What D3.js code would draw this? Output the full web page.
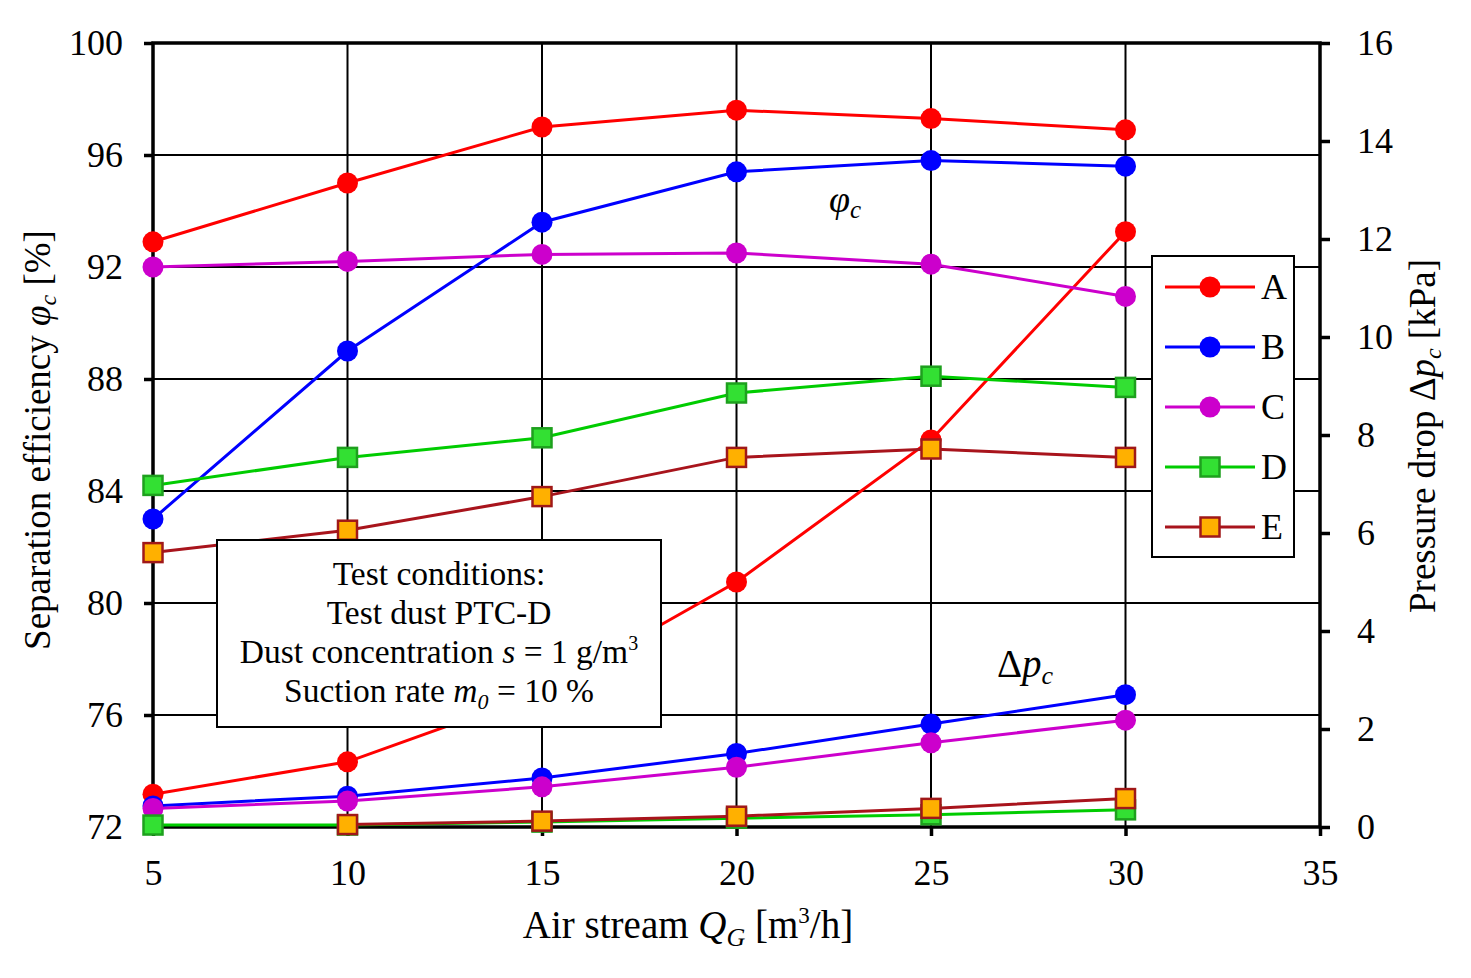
<!DOCTYPE html>
<html>
<head>
<meta charset="utf-8">
<script src="https://cdn.jsdelivr.net/npm/d3@7"></script>
<style>
  body { margin: 0; background: #fff; }
  text { font-family: "Liberation Serif", "Times New Roman", serif; fill: #000; }
</style>
</head>
<body>
<svg id="chart" width="1471" height="978"></svg>
<script>
// x values (air stream, m3/h)
const airStream = [5, 10, 15, 20, 25, 30];

// separation efficiency [%] per cyclone variant
const effA = [92.9, 95.0, 97.0, 97.6, 97.3, 96.9];
const effB = [83.0, 89.0, 93.6, 95.4, 95.8, 95.6];
const effC = [92.0, 92.2, 92.45, 92.5, 92.1, 90.95];
const effD = [84.2, 85.2, 85.9, 87.5, 88.1, 87.7];
const effE = [81.8, 82.6, 83.8, 85.2, 85.5, 85.2];

// pressure drop [kPa]
const dpA = [0.67, 1.33, 2.75, 5.0, 7.9, 12.15];
const dpB = [0.43, 0.63, 1.0, 1.5, 2.1, 2.7];
const dpC = [0.38, 0.53, 0.82, 1.22, 1.72, 2.18];
const dpD = [0.04, 0.04, 0.1, 0.18, 0.25, 0.35];
const dpE = [null, 0.05, 0.12, 0.22, 0.38, 0.58];

const seriesNames = ["A", "B", "C", "D", "E"];
const xTicks = [5, 10, 15, 20, 25, 30, 35];
const yLeftTicks = [72, 76, 80, 84, 88, 92, 96, 100];
const yRightTicks = [0, 2, 4, 6, 8, 10, 12, 14, 16];

// styling per series
const styles = {
  A: {line: "#ff0000", fill: "#ff0000", stroke: "#ff0000", shape: "circle"},
  B: {line: "#0000ff", fill: "#0000ff", stroke: "#0000ff", shape: "circle"},
  C: {line: "#cc00cc", fill: "#cc00cc", stroke: "#cc00cc", shape: "circle"},
  D: {line: "#00cc00", fill: "#33e033", stroke: "#1ea01e", shape: "square"},
  E: {line: "#a8141c", fill: "#ffb000", stroke: "#a01818", shape: "square"}
};

const effData = {A: effA, B: effB, C: effC, D: effD, E: effE};
const dpData = {A: dpA, B: dpB, C: dpC, D: dpD, E: dpE};

const svg = d3.select("#chart");
const plotL = 153, plotR = 1320, plotT = 43, plotB = 827;

const x = d3.scaleLinear().domain([5, 35]).range([plotL, plotR]);
const yL = d3.scaleLinear().domain([72, 100]).range([plotB, plotT]);
const yR = d3.scaleLinear().domain([0, 16]).range([plotB, plotT]);

// grid
const grid = svg.append("g");
grid.selectAll("line.v").data(xTicks.filter(d => d > 5 && d < 35)).enter().append("line")
  .attr("x1", d => x(d)).attr("x2", d => x(d)).attr("y1", plotT).attr("y2", plotB)
  .attr("stroke", "#000").attr("stroke-width", 2);
grid.selectAll("line.h").data(yLeftTicks.filter(d => d > 72 && d < 100)).enter().append("line")
  .attr("x1", plotL).attr("x2", plotR).attr("y1", d => yL(d)).attr("y2", d => yL(d))
  .attr("stroke", "#000").attr("stroke-width", 2);

// axes
const fs = 36;
const axB = svg.append("g").attr("transform", "translate(0," + plotB + ")")
  .call(d3.axisBottom(x).tickValues(xTicks).tickSize(9).tickPadding(23));
const axL = svg.append("g").attr("transform", "translate(" + plotL + ",0)")
  .call(d3.axisLeft(yL).tickValues(yLeftTicks).tickSize(9).tickPadding(21));
const axR = svg.append("g").attr("transform", "translate(" + plotR + ",0)")
  .call(d3.axisRight(yR).tickValues(yRightTicks).tickSize(10).tickPadding(27));
[axB, axL, axR].forEach(a => {
  a.select(".domain").remove();
  a.selectAll(".tick line").attr("stroke", "#000").attr("stroke-width", 3.5);
  a.selectAll(".tick text").attr("font-size", fs)
    .attr("font-family", "Liberation Serif, Times New Roman, serif");
});

// frame
svg.append("rect").attr("x", plotL).attr("y", plotT)
  .attr("width", plotR - plotL).attr("height", plotB - plotT)
  .attr("fill", "none").attr("stroke", "#000").attr("stroke-width", 3.5);

// series
function drawSeries(name, values, yScale) {
  const st = styles[name];
  const pts = airStream.map((q, i) => ({q: q, v: values[i]})).filter(d => d.v != null);
  const line = d3.line().x(d => x(d.q)).y(d => yScale(d.v));
  const g = svg.append("g");
  g.append("path").datum(pts).attr("d", line)
    .attr("fill", "none").attr("stroke", st.line).attr("stroke-width", 3);
  drawMarkers(g, pts.map(d => [x(d.q), yScale(d.v)]), st);
}

function drawMarkers(g, coords, st) {
  if (st.shape === "circle") {
    g.selectAll("circle").data(coords).enter().append("circle")
      .attr("cx", d => d[0]).attr("cy", d => d[1]).attr("r", 10.5)
      .attr("fill", st.fill);
  } else {
    g.selectAll("rect").data(coords).enter().append("rect")
      .attr("x", d => d[0] - 9.5).attr("y", d => d[1] - 9.5)
      .attr("width", 19).attr("height", 19)
      .attr("fill", st.fill).attr("stroke", st.stroke).attr("stroke-width", 2.5);
  }
}

seriesNames.forEach(n => drawSeries(n, dpData[n], yR));
seriesNames.forEach(n => drawSeries(n, effData[n], yL));

// test conditions box
const box = svg.append("g");
box.append("rect").attr("x", 217).attr("y", 540).attr("width", 444).attr("height", 187)
  .attr("fill", "#fff").attr("stroke", "#000").attr("stroke-width", 2);
const bfs = 33.5;
const cx = 439;
box.append("text").attr("x", cx).attr("y", 585).attr("text-anchor", "middle")
  .attr("font-size", bfs).text("Test conditions:");
box.append("text").attr("x", cx).attr("y", 624).attr("text-anchor", "middle")
  .attr("font-size", bfs).text("Test dust PTC-D");
const t3 = box.append("text").attr("x", cx).attr("y", 663).attr("text-anchor", "middle")
  .attr("font-size", bfs);
t3.append("tspan").text("Dust concentration ");
t3.append("tspan").attr("font-style", "italic").text("s");
t3.append("tspan").text(" = 1 g/m");
t3.append("tspan").attr("font-size", 20).attr("dy", -13).text("3");
const t4 = box.append("text").attr("x", cx).attr("y", 702).attr("text-anchor", "middle")
  .attr("font-size", bfs);
t4.append("tspan").text("Suction rate ");
t4.append("tspan").attr("font-style", "italic").text("m");
t4.append("tspan").attr("font-style", "italic").attr("font-size", 22).attr("dy", 7).text("0");
t4.append("tspan").attr("dy", -7).text(" = 10 %");

// legend
const lg = svg.append("g");
lg.append("rect").attr("x", 1152).attr("y", 256).attr("width", 142).attr("height", 301)
  .attr("fill", "#fff").attr("stroke", "#000").attr("stroke-width", 2);
const legY = d3.scalePoint().domain(seriesNames).range([287, 527]);
seriesNames.forEach(n => {
  const st = styles[n];
  const yy = legY(n);
  lg.append("line").attr("x1", 1165).attr("x2", 1255).attr("y1", yy).attr("y2", yy)
    .attr("stroke", st.line).attr("stroke-width", 3);
  drawMarkers(lg.append("g"), [[1210, yy]], st);
  lg.append("text").attr("x", 1261).attr("y", yy + 12).attr("font-size", fs).text(n);
});

// curve annotations
const a1 = svg.append("text").attr("x", 829).attr("y", 212).attr("font-size", 38)
  .attr("font-style", "italic");
a1.append("tspan").text("φ");
a1.append("tspan").attr("font-size", 25).attr("dy", 6).text("c");
const a2 = svg.append("text").attr("x", 997).attr("y", 677).attr("font-size", 39);
a2.append("tspan").text("Δ");
a2.append("tspan").attr("font-style", "italic").text("p");
a2.append("tspan").attr("font-style", "italic").attr("font-size", 26).attr("dy", 7).text("c");

// axis titles
const xt = svg.append("text").attr("x", 688).attr("y", 938).attr("text-anchor", "middle")
  .attr("font-size", 39);
xt.append("tspan").text("Air stream ");
xt.append("tspan").attr("font-style", "italic").text("Q");
xt.append("tspan").attr("font-style", "italic").attr("font-size", 26).attr("dy", 8).text("G");
xt.append("tspan").attr("dy", -8).text(" [m");
xt.append("tspan").attr("font-size", 23).attr("dy", -15).text("3");
xt.append("tspan").attr("dy", 15).text("/h]");

const yt = svg.append("text").attr("transform", "translate(50,440) rotate(-90)")
  .attr("text-anchor", "middle").attr("font-size", 37);
yt.append("tspan").text("Separation efficiency ");
yt.append("tspan").attr("font-style", "italic").text("φ");
yt.append("tspan").attr("font-style", "italic").attr("font-size", 24).attr("dy", 6).text("c");
yt.append("tspan").attr("dy", -6).text(" [%]");

const yt2 = svg.append("text").attr("transform", "translate(1435,436) rotate(-90)")
  .attr("text-anchor", "middle").attr("font-size", 37);
yt2.append("tspan").text("Pressure drop  Δ");
yt2.append("tspan").attr("font-style", "italic").text("p");
yt2.append("tspan").attr("font-style", "italic").attr("font-size", 24).attr("dy", 6).text("c");
yt2.append("tspan").attr("dy", -6).text(" [kPa]");
</script>
</body>
</html>
